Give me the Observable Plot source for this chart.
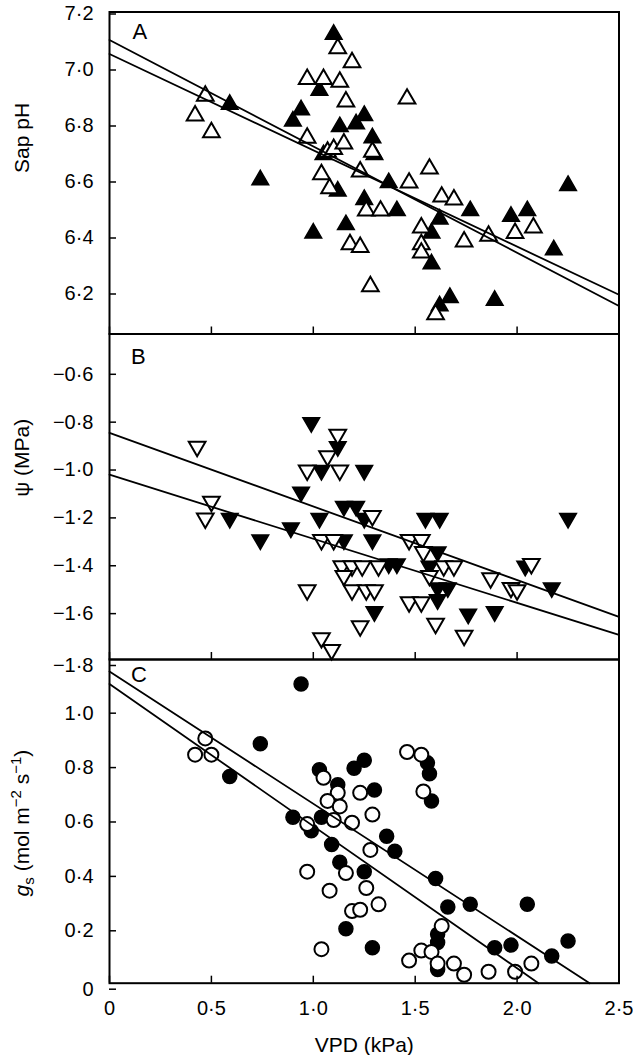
<!DOCTYPE html>
<html><head><meta charset="utf-8">
<script src="https://cdn.jsdelivr.net/npm/d3@7"></script>
<script src="https://cdn.jsdelivr.net/npm/@observablehq/plot@0.6"></script>
<style>
html,body{margin:0;padding:0;background:#fff;}
#chart{position:relative;width:633px;height:1055px;}
#chart svg{position:absolute;left:0;top:0;}
</style></head><body><div id="chart"></div>
<script>
// ---------- data ----------
const xTicks = [0, 0.5, 1, 1.5, 2, 2.5];
const aTicks = [6.2, 6.4, 6.6, 6.8, 7.0, 7.2];
const bTicks = [-1.6, -1.4, -1.2, -1.0, -0.8, -0.6];
const bEdgeTicks = [-1.8];
const cTicks = [0.2, 0.4, 0.6, 0.8, 1.0];
const cEdgeTicks = [0];

const aOpen = [[0.42,6.83],[0.47,6.90],[0.50,6.77],[0.97,6.96],[1.05,6.96],[1.13,6.95],[1.12,7.07],[1.19,7.02],[1.16,6.88],[1.46,6.89],[0.97,6.75],[1.07,6.70],[1.10,6.71],[1.15,6.73],[1.04,6.62],[1.23,6.63],[1.08,6.57],[1.29,6.70],[1.26,6.49],[1.33,6.49],[1.18,6.37],[1.23,6.36],[1.28,6.22],[1.47,6.59],[1.57,6.64],[1.63,6.54],[1.69,6.53],[1.53,6.43],[1.53,6.37],[1.53,6.34],[1.60,6.12],[1.74,6.38],[1.86,6.40],[1.99,6.41],[2.08,6.43]];
const aFilled = [[0.59,6.87],[0.74,6.60],[0.90,6.81],[0.94,6.85],[1.03,6.92],[1.10,7.12],[1.00,6.41],[1.05,6.69],[1.13,6.79],[1.12,6.56],[1.21,6.80],[1.25,6.83],[1.29,6.75],[1.30,6.69],[1.16,6.44],[1.25,6.53],[1.37,6.59],[1.41,6.49],[1.58,6.41],[1.62,6.46],[1.58,6.30],[1.62,6.15],[1.67,6.18],[1.89,6.17],[1.77,6.49],[1.97,6.47],[2.05,6.49],[2.18,6.35],[2.25,6.58]];
const aFit = [{s:"L1",x:0,y:7.10},{s:"L1",x:2.5,y:6.15},{s:"L2",x:0,y:7.05},{s:"L2",x:2.5,y:6.19}];

const bOpen = [[0.43,-0.91],[0.50,-1.14],[0.47,-1.21],[0.97,-1.01],[1.07,-0.95],[1.12,-0.86],[1.13,-1.01],[0.97,-1.51],[1.04,-1.30],[1.10,-1.30],[1.14,-1.41],[1.19,-1.41],[1.24,-1.41],[1.32,-1.41],[1.15,-1.45],[1.19,-1.51],[1.26,-1.51],[1.30,-1.51],[1.04,-1.71],[1.09,-1.76],[1.23,-1.66],[1.29,-1.20],[1.47,-1.30],[1.53,-1.30],[1.54,-1.35],[1.57,-1.45],[1.64,-1.41],[1.69,-1.41],[1.47,-1.56],[1.53,-1.56],[1.60,-1.65],[1.74,-1.70],[1.87,-1.46],[1.97,-1.50],[2.00,-1.51],[2.07,-1.40]];
const bFilled = [[0.99,-0.81],[1.12,-0.91],[1.04,-1.01],[1.25,-1.01],[0.94,-1.10],[0.59,-1.21],[0.74,-1.30],[0.89,-1.25],[1.03,-1.21],[1.15,-1.16],[1.21,-1.16],[1.25,-1.21],[1.15,-1.30],[1.29,-1.30],[1.30,-1.60],[1.55,-1.21],[1.62,-1.21],[2.25,-1.21],[1.61,-1.35],[1.37,-1.40],[1.41,-1.40],[1.57,-1.41],[1.61,-1.50],[1.66,-1.50],[1.61,-1.55],[1.76,-1.61],[1.89,-1.60],[2.04,-1.41],[2.17,-1.50]];
const bFit = [{s:"L1",x:0,y:-0.853},{s:"L1",x:2.5,y:-1.622},{s:"L2",x:0,y:-1.028},{s:"L2",x:2.5,y:-1.697}];

const cOpen = [[0.47,0.90],[0.42,0.84],[0.50,0.84],[1.05,0.755],[1.12,0.70],[1.07,0.67],[1.13,0.65],[1.10,0.60],[0.97,0.585],[1.19,0.59],[1.23,0.70],[1.29,0.62],[1.28,0.49],[0.97,0.41],[1.16,0.405],[1.08,0.34],[1.26,0.35],[1.32,0.29],[1.19,0.265],[1.23,0.27],[1.04,0.125],[1.46,0.85],[1.53,0.84],[1.54,0.705],[1.63,0.21],[1.47,0.083],[1.53,0.12],[1.58,0.115],[1.61,0.072],[1.69,0.072],[1.74,0.031],[1.86,0.042],[1.99,0.042],[2.07,0.072]];
const cFilled = [[0.94,1.10],[0.74,0.88],[0.59,0.76],[0.90,0.61],[0.99,0.56],[1.03,0.785],[1.12,0.73],[1.04,0.61],[1.09,0.51],[1.13,0.445],[1.20,0.79],[1.25,0.82],[1.16,0.20],[1.25,0.41],[1.29,0.13],[1.30,0.71],[1.36,0.54],[1.40,0.485],[1.56,0.81],[1.57,0.77],[1.58,0.67],[1.60,0.385],[1.66,0.28],[1.77,0.29],[2.05,0.29],[1.61,0.18],[1.61,0.15],[1.61,0.05],[1.89,0.13],[1.97,0.14],[2.17,0.10],[2.25,0.155]];
const cFit = [{s:"L1",x:0,y:1.146},{s:"L1",x:2.356,y:0},{s:"L2",x:0,y:1.10},{s:"L2",x:2.105,y:0}];

// ---------- drawing ----------
const W = 633, H = 1055;
const FONT = '"Liberation Sans", Arial, Helvetica, sans-serif';
const fmt = d => d === 0 ? "0" : d.toFixed(1).replace(".", "\u00b7").replace("-", "\u2212");
const triDown = {draw(ctx, size) {
  const h = Math.sqrt(size / (3 * Math.sqrt(3)));
  ctx.moveTo(0, 2 * h); ctx.lineTo(-Math.sqrt(3) * h, -h); ctx.lineTo(Math.sqrt(3) * h, -h); ctx.closePath();
}};
const yAxisOpts = {tickSize: -7, tickPadding: 23, tickFormat: fmt, fontSize: 20, strokeWidth: 1.5, label: null};

function panel(cfg) {
  const marks = [
    Plot.dot(cfg.filled, {x: d => d[0], y: d => d[1], symbol: cfg.symbol, r: cfg.r, fill: "black", stroke: "black", strokeWidth: 1.5}),
    Plot.dot(cfg.open, {x: d => d[0], y: d => d[1], symbol: cfg.symbol, r: cfg.r, fill: "white", stroke: "black", strokeWidth: 2}),
    Plot.line(cfg.fit, {x: "x", y: "y", z: "s", stroke: "black", strokeWidth: 1.8}),
    Plot.frame({stroke: "black", strokeWidth: 2}),
    Plot.axisY(cfg.yTicks, {...yAxisOpts, dy: 2}),
    cfg.xLabels
      ? Plot.axisX(xTicks, {tickSize: -7, tickPadding: 24.5, tickFormat: fmt, fontSize: 20, strokeWidth: 1.5, label: null})
      : Plot.axisX(xTicks, {tickSize: -7, tickFormat: () => "", strokeWidth: 1.5, label: null}),
    Plot.text([cfg.letter], {frameAnchor: "top-left", dx: cfg.letterDx, dy: cfg.letterDy, textAnchor: "start", lineAnchor: "top", fontSize: 22})
  ];
  if (cfg.edgeTicks) marks.push(Plot.axisY(cfg.edgeTicks, {...yAxisOpts, dy: 6}));
  if (cfg.title) marks.push(Plot.text([cfg.title], {frameAnchor: "left", dx: -87, rotate: -90, fontSize: 21}));
  if (cfg.xTitle) marks.push(Plot.text([cfg.xTitle], {frameAnchor: "bottom", dy: 69, lineAnchor: "bottom", fontSize: 21}));
  return Plot.plot({
    width: W, height: H,
    marginLeft: 109, marginRight: W - 618.5, marginTop: cfg.top, marginBottom: H - cfg.bottom,
    style: {background: "transparent", fontFamily: FONT, overflow: "visible", color: "black"},
    x: {domain: [0, 2.5]},
    y: {domain: cfg.yDomain},
    marks
  });
}

const chart = document.getElementById("chart");
chart.append(panel({top: 11.5, bottom: 333.5, yDomain: [6.05, 7.2], yTicks: aTicks, filled: aFilled, open: aOpen, fit: aFit,
  symbol: "triangle", r: 6.2, letter: "A", letterDx: 23, letterDy: 11, title: "Sap pH"}));
chart.append(panel({top: 333.5, bottom: 659, yDomain: [-1.8, -0.44], yTicks: bTicks, edgeTicks: bEdgeTicks, filled: bFilled, open: bOpen, fit: bFit,
  symbol: triDown, r: 6.2, letter: "B", letterDx: 21.5, letterDy: 14, title: "\u03c8 (MPa)"}));
const svgC = panel({top: 659, bottom: 982.7, yDomain: [0, 1.19], yTicks: cTicks, edgeTicks: cEdgeTicks, filled: cFilled, open: cOpen, fit: cFit,
  symbol: "circle", r: 7, letter: "C", letterDx: 21.5, letterDy: 7, xLabels: true, xTitle: "VPD (kPa)"});
chart.append(svgC);

// rich y-axis title for panel C (italic g, subscript s, superscripts)
const t = d3.select(svgC).append("text")
  .attr("transform", "translate(22,823) rotate(-90)")
  .attr("text-anchor", "middle").attr("font-size", 21).attr("font-family", FONT).attr("fill", "black");
t.append("tspan").attr("dy", "0.32em").attr("font-style", "italic").text("g");
t.append("tspan").attr("font-size", 15).attr("dy", 5).text("s");
t.append("tspan").attr("dy", -5).text(" (mol m");
t.append("tspan").attr("font-size", 15).attr("dy", -8).text("\u22122");
t.append("tspan").attr("dy", 8).text(" s");
t.append("tspan").attr("font-size", 15).attr("dy", -8).text("\u22121");
t.append("tspan").attr("dy", 8).text(")");
</script></body></html>
